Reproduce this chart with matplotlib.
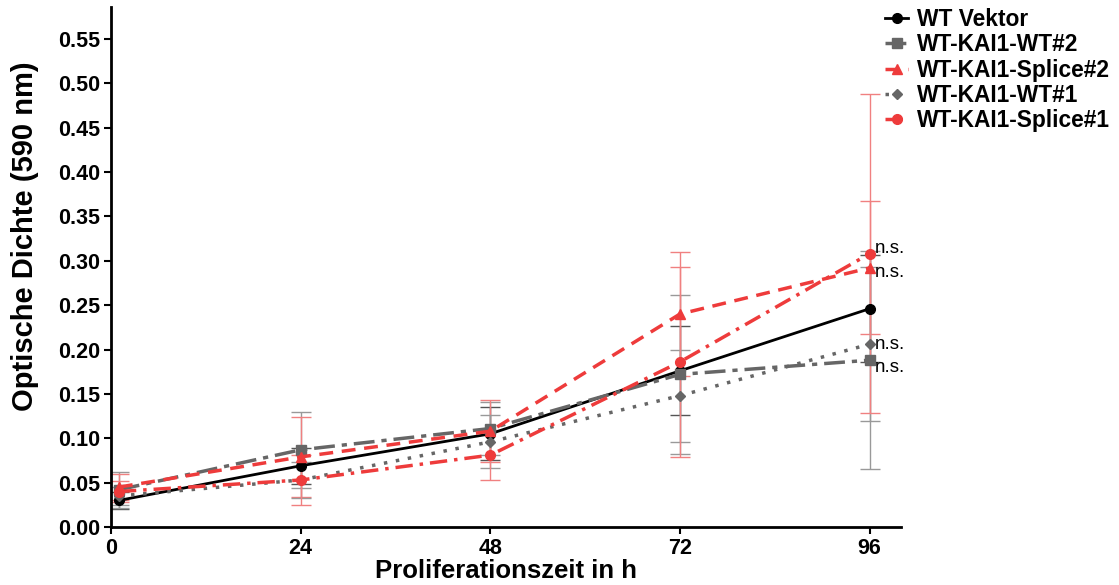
import numpy as np
import matplotlib
matplotlib.use('Agg')
import matplotlib.pyplot as plt

plt.rcParams['font.family'] = ['Liberation Sans', 'DejaVu Sans']

# Zeitpunkte (h)
zeit = [1, 24, 48, 72, 96]

# Mittelwerte
wt_vektor = [0.030, 0.069, 0.105, 0.176, 0.246]
kai1_wt2 = [0.042, 0.087, 0.111, 0.172, 0.188]
kai1_splice2 = [0.045, 0.079, 0.108, 0.240, 0.292]
kai1_wt1 = [0.035, 0.053, 0.096, 0.148, 0.206]
kai1_splice1 = [0.040, 0.053, 0.081, 0.186, 0.308]

# Standardabweichungen
sd_vektor = [0.010, 0.020, 0.030, 0.050, 0.060]
sd_wt2 = [0.020, 0.043, 0.030, 0.090, 0.123]
sd_splice2 = [0.015, 0.045, 0.035, 0.070, 0.075]
sd_wt1 = [0.010, 0.020, 0.030, 0.052, 0.087]
sd_splice1 = [0.012, 0.028, 0.028, 0.107, 0.180]

labels = ['WT Vektor', 'WT-KAI1-WT#2', 'WT-KAI1-Splice#2', 'WT-KAI1-WT#1', 'WT-KAI1-Splice#1']
signif = ['n.s.', 'n.s.', 'n.s.', 'n.s.']

rot = '#EE3B3B'
grau = '#666666'

fig = plt.figure(figsize=(11.19, 5.85), dpi=100)
ax = fig.add_axes([0.0992, 0.0991, 0.7061, 0.8889])

serien = [
    (wt_vektor, sd_vektor, 'black', '-', 'o', '#555555'),
    (kai1_wt2, sd_wt2, grau, (0, (6, 2, 1.5, 2)), 's', '#999999'),
    (kai1_splice2, sd_splice2, rot, (0, (4, 2.5)), '^', '#F08080'),
    (kai1_wt1, sd_wt1, grau, (0, (1, 2.5)), 'D', '#999999'),
    (kai1_splice1, sd_splice1, rot, (0, (5, 2, 1, 2)), 'o', '#F08080'),
]

for (y, sd, c, ls, m, ec), lab in zip(serien, labels):
    ax.errorbar(zeit, y, yerr=sd, fmt='none', ecolor=ec, elinewidth=1,
                capsize=7, capthick=1, zorder=1)
    ms = 7 if m != 'D' else 5
    ax.plot(zeit, y, color=c, linestyle=ls, linewidth=2.5 if c != 'black' else 2,
            marker=m, markersize=ms, label=lab, zorder=3)

# n.s. an den 96h Punkten (leicht versetzt, damit sie sich nicht überlappen)
ns_y = [kai1_splice1[-1], kai1_splice2[-1], kai1_wt1[-1], kai1_wt2[-1]]
ns_off = [3.5, -3, 0, -5]
for y, s, off in zip(ns_y, signif, ns_off):
    ax.annotate(s, (96, y), xytext=(4, off), textcoords='offset points',
                fontsize=13.5, va='center', ha='left')

ax.set_xlim(0, 100)
ax.set_ylim(0, 0.586)
ax.set_xticks([0, 24, 48, 72, 96])
ax.set_yticks(np.arange(0, 0.56, 0.05))
ax.set_yticklabels(['%.2f' % v for v in np.arange(0, 0.56, 0.05)])
for sp in ['top', 'right']:
    ax.spines[sp].set_visible(False)
for sp in ['left', 'bottom']:
    ax.spines[sp].set_linewidth(2)
ax.tick_params(axis='both', width=1.5, length=5, labelsize=15.5, pad=3)
for t in ax.get_xticklabels() + ax.get_yticklabels():
    t.set_fontweight('bold')

ax.set_xlabel('Proliferationszeit in h', fontsize=18.5, fontweight='bold', labelpad=0)
ax.set_ylabel('Optische Dichte (590 nm)', fontsize=21, fontweight='bold')
ax.yaxis.set_label_coords(-0.091, 0.56)

leg = ax.legend(loc='upper left', bbox_to_anchor=(0.98, 0.998), frameon=False,
                prop={'weight': 'bold', 'size': 16.4}, handlelength=1.0,
                handletextpad=0.4, labelspacing=0.1, borderaxespad=0,
                borderpad=0)

fig.savefig('out.png', dpi=100)
